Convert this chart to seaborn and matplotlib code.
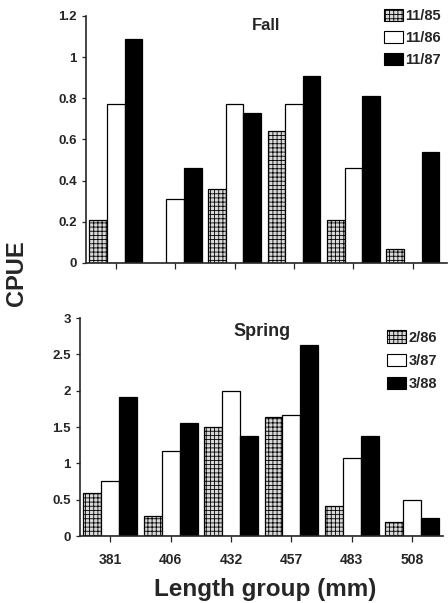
import numpy as np
import pandas as pd
import matplotlib
matplotlib.use("Agg")
import matplotlib.pyplot as plt
import seaborn as sns
from matplotlib.patches import Patch

lengths = ["381", "406", "432", "457", "483", "508"]

fall_dates = ["11/85", "11/86", "11/87"]
fall_1185 = [0.21, 0.0, 0.36, 0.64, 0.21, 0.07]
fall_1186 = [0.77, 0.31, 0.77, 0.77, 0.46, 0.0]
fall_1187 = [1.09, 0.46, 0.73, 0.91, 0.81, 0.54]

spring_dates = ["2/86", "3/87", "3/88"]
spring_286 = [0.59, 0.28, 1.50, 1.64, 0.41, 0.19]
spring_387 = [0.76, 1.17, 2.00, 1.67, 1.08, 0.49]
spring_388 = [1.91, 1.56, 1.38, 2.63, 1.38, 0.25]

sns.set_style("ticks")
plt.rcParams["font.family"] = ["Liberation Sans", "DejaVu Sans"]
plt.rcParams["hatch.color"] = "#777777"
plt.rcParams["hatch.linewidth"] = 0.6

colors = ["#d8d8d8", "white", "black"]


def long_df(dates, series):
    rows = []
    for d, vals in zip(dates, series):
        for l, v in zip(lengths, vals):
            rows.append({"length": l, "cpue": v, "date": d})
    return pd.DataFrame(rows)


def draw_panel(ax, df, dates, title, title_y, ymax, ystep, show_labels, xmax,
               leg_anchor, title_size, spacing):
    sns.barplot(data=df, x="length", y="cpue", hue="date", hue_order=dates,
                palette=colors, width=0.89, edgecolor="black", linewidth=0.9,
                saturation=1, legend=False, ax=ax)
    for bar in ax.containers[0]:
        bar.set_hatch("++++")
    ax.set_ylim(0, ymax)
    ax.set_xlim(-0.5, xmax)
    yt = np.arange(0, ymax + 0.001, ystep)
    ax.set_yticks(yt)
    ax.set_yticklabels([f"{t:g}" for t in yt], fontsize=9.5, fontweight="bold")
    if show_labels:
        ax.set_xticklabels(lengths, fontsize=10, fontweight="bold")
    else:
        ax.set_xticklabels([])
    ax.tick_params(axis="x", length=4, width=0.9, pad=8)
    ax.tick_params(axis="y", length=3, width=0.9)
    ax.set_xlabel("")
    ax.set_ylabel("")
    sns.despine(ax=ax)
    for s in ["left", "bottom"]:
        ax.spines[s].set_linewidth(1.2)
    ax.text(0.5, title_y, title, transform=ax.transAxes, ha="center",
            va="center", fontsize=title_size, fontweight="bold")
    handles = [Patch(facecolor=c, edgecolor="black", linewidth=0.8,
                     hatch="++++" if i == 0 else None)
               for i, c in enumerate(colors)]
    ax.legend(handles, dates, loc="upper left", bbox_to_anchor=leg_anchor,
              bbox_transform=fig.transFigure, frameon=False,
              handlelength=1.3, handleheight=0.9, handletextpad=0.15,
              labelspacing=spacing, borderaxespad=0, borderpad=0,
              prop={"weight": "bold", "size": 10.5})
    return ax


fig = plt.figure(figsize=(4.48, 6.03), dpi=100)
ax1 = fig.add_axes([0.192, 0.564, 0.805, 0.4096])
ax2 = fig.add_axes([0.1786, 0.111, 0.8104, 0.3615])

draw_panel(ax1, long_df(fall_dates, [fall_1185, fall_1186, fall_1187]),
           fall_dates, "Fall", 0.96, 1.2, 0.2, False, 5.57, (0.858, 0.985),
           12, 0.55)
draw_panel(ax2, long_df(spring_dates, [spring_286, spring_387, spring_388]),
           spring_dates, "Spring", 0.94, 3, 0.5, True, 5.51, (0.864, 0.452),
           13, 0.62)

fig.text(0.037, 0.547, "CPUE", rotation=90, ha="center", va="center",
         fontsize=17, fontweight="bold")
fig.text(0.592, 0.023, "Length group (mm)", ha="center", va="center",
         fontsize=17.5, fontweight="bold")

fig.savefig("out.png", dpi=100)
